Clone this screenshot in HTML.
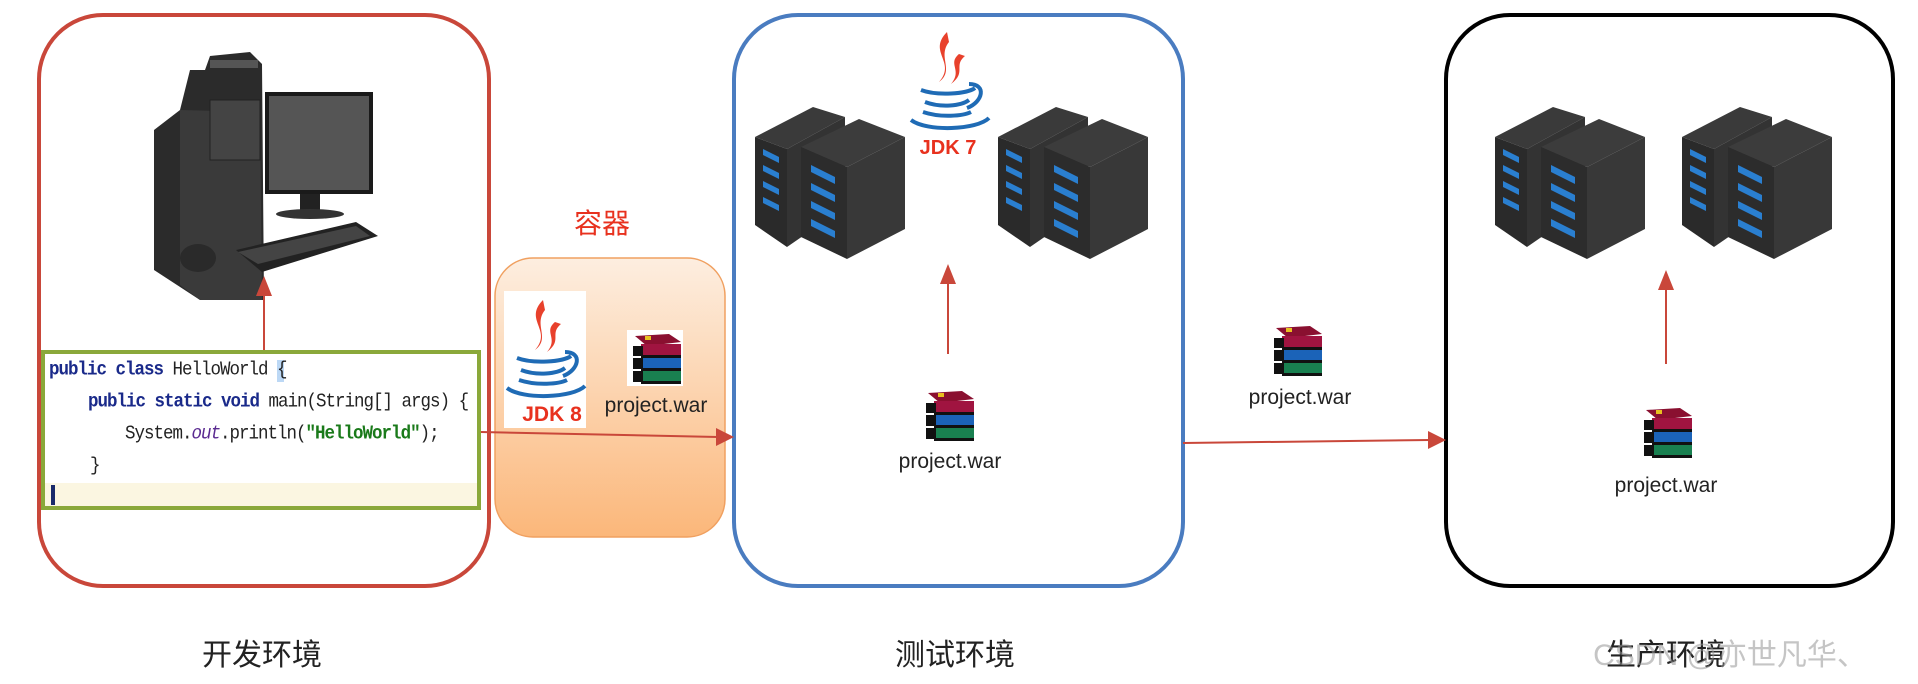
<!DOCTYPE html>
<html><head><meta charset="utf-8"><style>
html,body{margin:0;padding:0;background:#fff;}
body{width:1918px;height:684px;position:relative;overflow:hidden;font-family:"Liberation Sans","Noto Sans CJK SC",sans-serif;}
.t{position:absolute;white-space:nowrap;transform:translateX(-50%);}
.code{position:absolute;font-family:"Liberation Mono",monospace;font-size:17.5px;letter-spacing:-1px;color:#222;white-space:nowrap;transform:scaleY(1.1);transform-origin:left top;}
.kw{color:#1a2a8a;font-weight:bold;}
</style></head><body>
<svg width="1918" height="684" style="position:absolute;left:0;top:0">
<defs>
<linearGradient id="og" x1="0" y1="0" x2="0" y2="1"><stop offset="0" stop-color="#fdeee0"/><stop offset="1" stop-color="#fbb77a"/></linearGradient>
<g id="srv">
 <polygon points="0,30 58,0 90,10 32,42" fill="#3a3a3a"/>
 <polygon points="0,30 32,42 32,140 0,118" fill="#2a2a2a"/>
 <polygon points="32,42 90,10 90,100 32,140" fill="#333"/>
 <polygon points="46,40 104,12 150,30 92,60" fill="#3c3c3c"/>
 <polygon points="46,40 92,60 92,152 46,130" fill="#2c2c2c"/>
 <polygon points="92,60 150,30 150,122 92,152" fill="#383838"/>
 <g fill="#2a7fd0">
  <polygon points="8,42 24,50 24,56 8,48"/><polygon points="8,58 24,66 24,72 8,64"/><polygon points="8,74 24,82 24,88 8,80"/><polygon points="8,90 24,98 24,104 8,96"/>
  <polygon points="56,58 80,70 80,77 56,65"/><polygon points="56,76 80,88 80,95 56,83"/><polygon points="56,94 80,106 80,113 56,101"/><polygon points="56,112 80,124 80,131 56,119"/>
 </g>
</g>
<g id="war">
 <rect x="0" y="0" width="56" height="56" fill="#fff"/>
 <polygon points="8,6 42,4 54,12 20,16" fill="#8a1030"/>
 <rect x="14" y="14" width="40" height="12" fill="#a01440"/>
 <rect x="6" y="16" width="10" height="10" fill="#111"/>
 <rect x="14" y="28" width="40" height="11" fill="#1b63b8"/>
 <rect x="6" y="28" width="10" height="11" fill="#111"/>
 <rect x="14" y="41" width="40" height="11" fill="#198050"/>
 <rect x="6" y="41" width="10" height="11" fill="#111"/>
 <rect x="14" y="25" width="40" height="3" fill="#111"/><rect x="14" y="38" width="40" height="3" fill="#111"/><rect x="14" y="51" width="40" height="3" fill="#111"/>
 <rect x="18" y="6" width="6" height="4" fill="#e8c020"/>
</g>
<g id="java">
 <path d="M40,0 C20,20 50,30 32,50 C48,38 30,25 42,10 Z" fill="#e8412c"/>
 <path d="M52,22 C40,32 56,38 44,52 C60,40 46,34 58,24 Z" fill="#e8412c"/>
 <g fill="none" stroke="#1f6bb5" stroke-width="4">
  <path d="M14,58 C30,64 60,62 68,56"/>
  <path d="M18,70 C34,76 54,74 62,68"/>
  <path d="M62,52 C80,52 76,70 60,76"/>
  <path d="M16,80 C34,86 56,84 64,80"/>
  <path d="M4,88 C20,100 70,98 82,86"/>
 </g>
</g>
</defs>
<rect x="39" y="15" width="450" height="571" rx="64" fill="none" stroke="#c9473a" stroke-width="4"/>
<rect x="734" y="15" width="449" height="571" rx="64" fill="none" stroke="#4a7cc0" stroke-width="4"/>
<rect x="1446" y="15" width="447" height="571" rx="64" fill="none" stroke="#000" stroke-width="4"/>
<rect x="495" y="258" width="230" height="279" rx="38" fill="url(#og)" stroke="#f0a060" stroke-width="1.5"/>
<g>
 <polygon points="154,130 180,110 190,70 205,70 210,56 250,52 262,64 264,300 200,300 154,270" fill="#2b2b2b"/>
 <polygon points="180,110 260,112 262,300 200,300 180,285" fill="#3a3a3a"/>
 <rect x="210" y="60" width="48" height="8" fill="#555"/>
 <rect x="210" y="100" width="50" height="60" fill="#444" stroke="#222"/>
 <rect x="265" y="92" width="108" height="102" fill="#1a1a1a"/>
 <rect x="269" y="96" width="100" height="94" fill="#555"/>
 <rect x="300" y="194" width="20" height="20" fill="#222"/>
 <ellipse cx="310" cy="214" rx="34" ry="5" fill="#333"/>
 <polygon points="236,250 356,222 378,236 262,272" fill="#222"/>
 <polygon points="238,252 356,226 370,236 258,264" fill="#444"/>
 <ellipse cx="198" cy="258" rx="18" ry="14" fill="#2a2a2a"/>
</g>
<rect x="43" y="352" width="436" height="156" fill="#fff" stroke="#8aa83a" stroke-width="4"/>
<rect x="45" y="483" width="432" height="23" fill="#fbf6e1"/>
<rect x="51" y="485" width="4" height="20" fill="#1a2a6a"/>
<rect x="277" y="360" width="7" height="22" fill="#bcd8f5"/>
<g stroke="#c9473a" stroke-width="2" fill="#c9473a">
 <line x1="264" y1="350" x2="264" y2="292"/><polygon points="256,296 272,296 264,276" stroke="none"/>
 <line x1="481" y1="432" x2="718" y2="437"/><polygon points="716,428 734,437 716,446" stroke="none"/>
 <line x1="948" y1="354" x2="948" y2="280"/><polygon points="940,284 956,284 948,264" stroke="none"/>
 <line x1="1183" y1="443" x2="1430" y2="440"/><polygon points="1428,431 1446,440 1428,449" stroke="none"/>
 <line x1="1666" y1="364" x2="1666" y2="286"/><polygon points="1658,290 1674,290 1666,270" stroke="none"/>
</g>
<rect x="504" y="291" width="82" height="137" fill="#fff"/>
<use href="#java" x="503" y="300"/>
<use href="#war" x="627" y="330"/>
<use href="#srv" x="755" y="107"/>
<use href="#srv" x="998" y="107"/>
<use href="#java" x="907" y="32"/>
<use href="#war" x="920" y="387"/>
<use href="#war" x="1268" y="322"/>
<use href="#srv" x="1495" y="107"/>
<use href="#srv" x="1682" y="107"/>
<use href="#war" x="1638" y="404"/>
</svg>
<div class="code kw" style="left:49px;top:359px">public class <span style="color:#222;font-weight:normal">HelloWorld {</span></div>
<div class="code" style="left:88px;top:391px"><span class="kw">public static void</span> main(String[] args) {</div>
<div class="code" style="left:125px;top:423px">System.<i style="color:#5a2a90">out</i>.println(<span style="color:#1a7a1a;font-weight:bold">"HelloWorld"</span>);</div>
<div class="code" style="left:90px;top:455px">}</div>
<div class="t" style="left:602px;top:202px;font-size:28px;color:#e8311e">容器</div>
<div class="t" style="left:552px;top:403px;font-size:21px;color:#e8311e;font-weight:bold">JDK 8</div>
<div class="t" style="left:656px;top:394px;font-size:21px;color:#222">project.war</div>
<div class="t" style="left:948px;top:137px;font-size:20px;color:#e8311e;font-weight:bold">JDK 7</div>
<div class="t" style="left:950px;top:450px;font-size:21px;color:#222">project.war</div>
<div class="t" style="left:1300px;top:386px;font-size:21px;color:#222">project.war</div>
<div class="t" style="left:1666px;top:474px;font-size:21px;color:#222">project.war</div>
<div class="t" style="left:262px;top:630px;font-size:30px;color:#222">开发环境</div>
<div class="t" style="left:955px;top:630px;font-size:30px;color:#222">测试环境</div>
<div class="t" style="left:1666px;top:630px;font-size:30px;color:#222">生产环境</div>
<div class="t" style="left:1730px;top:630px;font-size:30px;color:rgba(150,150,150,0.55)">CSDN @亦世凡华、</div>
</body></html>
